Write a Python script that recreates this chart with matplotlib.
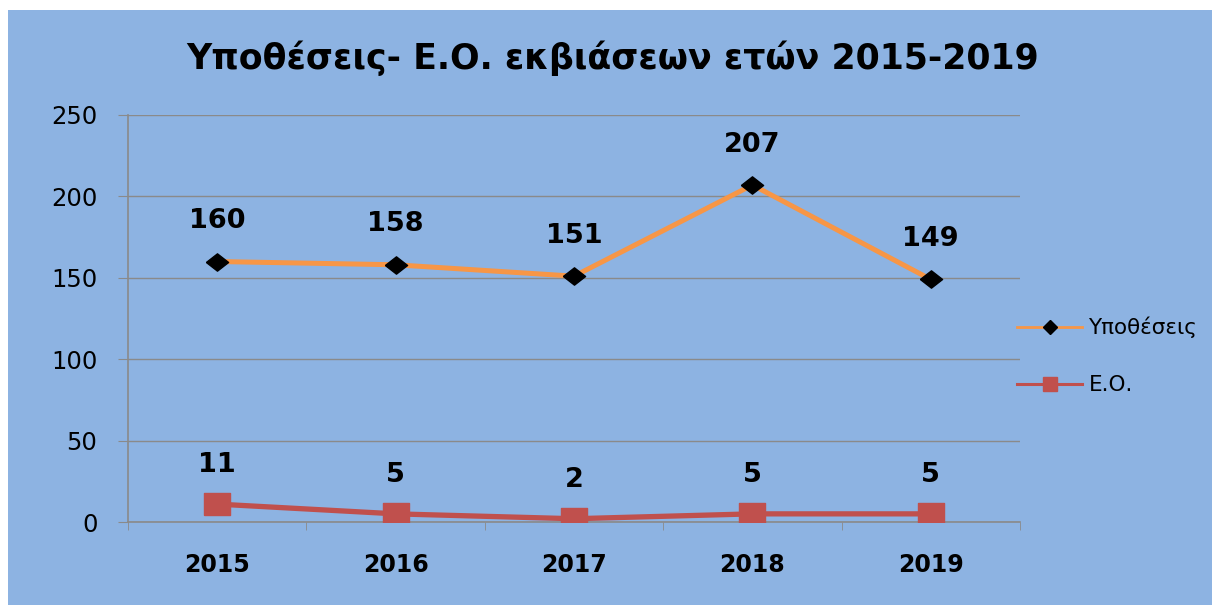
import numpy as np
import matplotlib.pyplot as plt
from matplotlib.patches import Rectangle
from matplotlib.lines import Line2D

years = ['2015', '2016', '2017', '2018', '2019']
cases = [160, 158, 151, 207, 149]
eo = [11, 5, 2, 5, 5]

bg = '#8DB3E2'
grid_c = '#8A8A8A'
orange = '#F79646'
red = '#C0504D'

# slightly flattened diamond and wide square markers
diamond = [(-1, 0), (0, -0.78), (1, 0), (0, 0.78), (-1, 0)]
rect = [(-1, -0.8), (1, -0.8), (1, 0.8), (-1, 0.8), (-1, -0.8)]

fig = plt.figure(figsize=(12.12, 6.05), dpi=100)
fig.patch.set_facecolor('white')
fig.patches.append(Rectangle((8 / 1212, 0), 1, 1 - 10 / 605, transform=fig.transFigure,
                             facecolor=bg, edgecolor='none', zorder=-10))

ax = fig.add_axes([128 / 1212, 83 / 605, 892 / 1212, 407 / 605])
ax.set_facecolor('none')
x = np.arange(len(years))

ax.plot(x, cases, color=orange, lw=3.6, marker=diamond, ms=16, mfc='black', mec='black',
        zorder=3)
ax.plot(x, eo, color=red, lw=3.8, marker=rect, ms=19, mfc=red, mec=red, zorder=3)

for xi, v in zip(x, cases):
    ax.annotate(str(v), (xi, v), xytext=(0, 29), textcoords='offset points', ha='center',
                va='center', fontsize=19.5, fontweight='bold')
for xi, v in zip(x, eo):
    ax.annotate(str(v), (xi, v), xytext=(0, 28), textcoords='offset points', ha='center',
                va='center', fontsize=19.5, fontweight='bold')

ax.set_xlim(-0.5, 4.5)
ax.set_ylim(0, 250)
ax.set_yticks(np.arange(0, 251, 50))
ax.set_xticks(x)
ax.set_xticklabels(years, fontsize=17, fontweight='bold')
ax.set_xticks(np.arange(-0.5, 4.6, 1), minor=True)
ax.tick_params(axis='x', which='major', length=0, pad=22)
ax.tick_params(axis='x', which='minor', length=6, color=grid_c, direction='out')
ax.tick_params(axis='y', length=7, color=grid_c, labelsize=17.5, pad=15)
ax.yaxis.grid(True, color=grid_c, lw=1)
ax.set_axisbelow(True)
for s in ['top', 'right']:
    ax.spines[s].set_visible(False)
for s in ['left', 'bottom']:
    ax.spines[s].set_color(grid_c)
    ax.spines[s].set_linewidth(1.2)

fig.text(613 / 1212, 1 - 58 / 605, 'Υποθέσεις- Ε.Ο. εκβιάσεων ετών 2015-2019',
         ha='center', va='center', fontsize=25, fontweight='bold')

handles = [
    Line2D([], [], color=orange, lw=2, marker='D', ms=7, mfc='black', mec='black'),
    Line2D([], [], color=red, lw=2.2, marker='s', ms=10, mfc=red, mec=red),
]
fig.legend(handles, ['Υποθέσεις', 'Ε.Ο.'], loc='center left',
           bbox_to_anchor=(998 / 1212, 1 - 356 / 605), frameon=False, fontsize=15.5,
           handlelength=3.0, handletextpad=0.3, labelspacing=1.7)

fig.savefig('out.png', dpi=100)
